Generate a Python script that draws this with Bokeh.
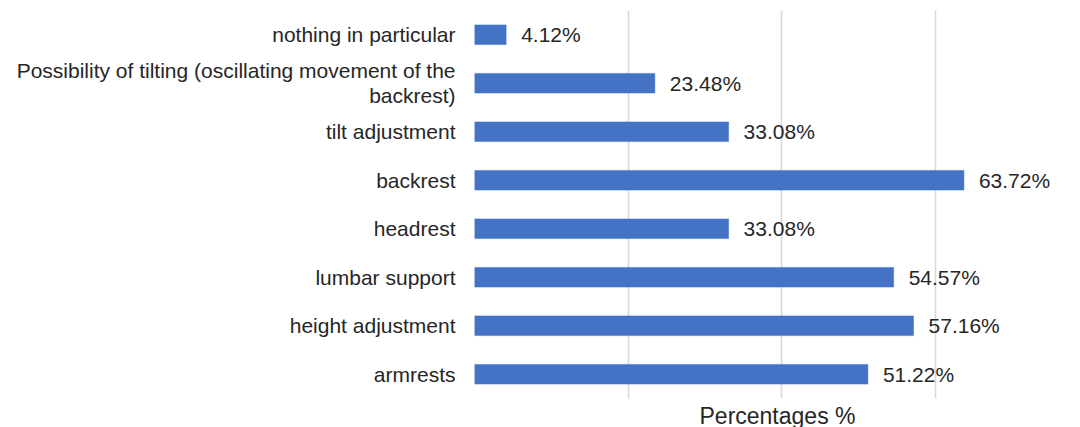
from bokeh.plotting import figure
from bokeh.models import ColumnDataSource, FactorRange, Range1d, FixedTicker
from bokeh.core.properties import value
from bokeh.embed import file_html
from bokeh.resources import INLINE

# Data (top to bottom as shown)
categories = [
    "nothing in particular",
    "Possibility of tilting (oscillating movement of the\nbackrest)",
    "tilt adjustment",
    "backrest",
    "headrest",
    "lumbar support",
    "height adjustment",
    "armrests",
]
percentages = [4.12, 23.48, 33.08, 63.72, 33.08, 54.57, 57.16, 51.22]
value_labels = ["4.12%", "23.48%", "33.08%", "63.72%", "33.08%", "54.57%", "57.16%", "51.22%"]
grid_ticks = [0, 20, 40, 60]
x_title = "Percentages %"

FONT = "Liberation Sans"
TXT = "#262626"
BAR = "#4472C4"

source = ColumnDataSource(dict(cat=categories, val=percentages, lab=value_labels))

p = figure(
    y_range=FactorRange(factors=list(reversed(categories))),
    x_range=Range1d(0, 78.9),
    frame_width=606, frame_height=388,
    min_border_left=474, min_border_right=0, min_border_top=10, min_border_bottom=29,
    output_backend="svg", toolbar_location=None,
)
p.outline_line_color = None
p.background_fill_color = "white"
p.border_fill_color = "white"

p.hbar(y="cat", right="val", left=0, height=0.406, source=source,
       fill_color=BAR, line_color=BAR, line_width=0.5)

p.text(x="val", y="cat", text="lab", source=source, x_offset=15,
       text_baseline="middle", text_align="left",
       text_font=value(FONT), text_font_size="21px", text_color=TXT)

# x axis: only the title, no ticks or labels
xa = p.xaxis[0]
xa.ticker = FixedTicker(ticks=[])
xa.axis_line_color = None
xa.major_tick_line_color = None
xa.minor_tick_line_color = None
xa.major_tick_out = 0
xa.major_tick_in = 0
xa.major_label_standoff = 0
xa.major_label_text_font_size = "0px"
xa.axis_label = x_title
xa.axis_label_standoff = 4
xa.axis_label_text_font = FONT
xa.axis_label_text_font_size = "23px"
xa.axis_label_text_font_style = "normal"
xa.axis_label_text_color = TXT

p.xgrid.ticker = FixedTicker(ticks=grid_ticks)
p.xgrid.grid_line_color = "#d9d9d9"
p.xgrid.grid_line_width = 1.6
p.ygrid.visible = False

ya = p.yaxis[0]
ya.axis_line_color = None
ya.major_tick_line_color = None
ya.major_tick_out = 0
ya.major_tick_in = 0
ya.major_label_standoff = 19
ya.major_label_text_font = FONT
ya.major_label_text_font_size = "21px"
ya.major_label_text_color = TXT
ya.major_label_text_line_height = 1.07
ya.major_label_text_align = "center"

open("out.html", "w").write(file_html(p, INLINE))
